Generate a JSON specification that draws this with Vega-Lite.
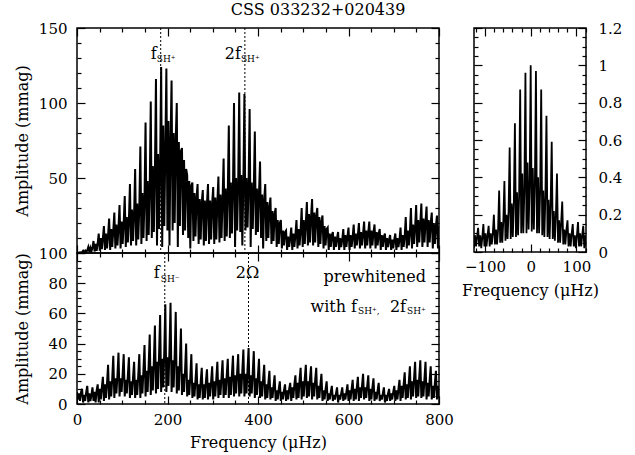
{
"$schema": "https://vega.github.io/schema/vega-lite/v6.json",
"padding": {"left": 13, "top": 2, "right": 5, "bottom": 5},
"title": {"text": "CSS 033232+020439", "anchor": "middle", "offset": 2, "font": "DejaVu Serif", "fontSize": 16, "fontWeight": "normal", "color": "black"},
"config": {
  "view": {"stroke": "black", "strokeWidth": 1.5},
  "axis": {"domain": false, "grid": false, "tickColor": "black", "tickWidth": 1.2, "labelColor": "black", "titleColor": "black", "labelFont": "DejaVu Serif", "titleFont": "DejaVu Serif", "labelFontSize": 15, "titleFontSize": 16, "titleFontWeight": "normal", "labelFlush": false, "labelOverlap": false, "titlePadding": 8}
},
"datasets": {
"p": [
{"f":0,"a":0,"b":8},
{"f":2,"a":0.3,"b":3},{"f":4.3,"a":0.1,"b":7},{"f":6.6,"a":0.5,"b":2},{"f":8.9,"a":0.2,"b":8},{"f":11.2,"a":0.6,"b":10},
{"f":13.5,"a":1.5,"b":1},{"f":15.8,"a":0.4,"b":6},{"f":18.1,"a":1.6,"b":2},{"f":20.4,"a":0.5,"b":8},{"f":22.7,"a":1.8,"b":12},
{"f":25,"a":4,"b":1},{"f":27.3,"a":0.8,"b":7},{"f":29.6,"a":3.5,"b":2},{"f":31.9,"a":1,"b":6},{"f":34.2,"a":3.8,"b":11},
{"f":36.5,"a":8,"b":2},{"f":38.8,"a":1,"b":8},{"f":41.1,"a":6,"b":1},{"f":43.4,"a":1.5,"b":9},{"f":45.7,"a":6.5,"b":13},
{"f":48,"a":13,"b":1},{"f":50.3,"a":1.5,"b":10},{"f":52.6,"a":10,"b":3},{"f":54.9,"a":2.5,"b":11},{"f":57.2,"a":10,"b":18},
{"f":59.5,"a":18,"b":2},{"f":61.8,"a":2,"b":13},{"f":64.1,"a":13,"b":4},{"f":66.4,"a":3,"b":14},{"f":68.7,"a":12,"b":26},
{"f":71,"a":23,"b":3},{"f":73.3,"a":2,"b":15},{"f":75.6,"a":16,"b":5},{"f":77.9,"a":4,"b":17},{"f":80.2,"a":15,"b":32},
{"f":82.5,"a":27,"b":4},{"f":84.8,"a":3,"b":17},{"f":87.1,"a":19,"b":7},{"f":89.4,"a":5,"b":19},{"f":91.7,"a":17,"b":34},
{"f":94,"a":32,"b":5},{"f":96.3,"a":3,"b":17},{"f":98.6,"a":21,"b":8},{"f":100.9,"a":6,"b":20},{"f":103.2,"a":20,"b":33},
{"f":105.5,"a":38,"b":5},{"f":107.8,"a":4,"b":16},{"f":110.1,"a":24,"b":7},{"f":112.4,"a":7,"b":19},{"f":114.7,"a":22,"b":31},
{"f":117,"a":46,"b":4},{"f":119.3,"a":5,"b":15},{"f":121.6,"a":29,"b":6},{"f":123.9,"a":8,"b":18},{"f":126.2,"a":26,"b":28},
{"f":128.5,"a":56,"b":4},{"f":130.8,"a":5,"b":16},{"f":133.1,"a":33,"b":6},{"f":135.4,"a":9,"b":19},{"f":137.7,"a":30,"b":33},
{"f":140,"a":71,"b":4},{"f":142.3,"a":6,"b":19},{"f":144.6,"a":40,"b":7},{"f":146.9,"a":10,"b":23},{"f":149.2,"a":36,"b":39},
{"f":151.5,"a":87,"b":5},{"f":153.8,"a":8,"b":22},{"f":156.1,"a":48,"b":8},{"f":158.4,"a":12,"b":26},{"f":160.7,"a":44,"b":46},
{"f":163,"a":101,"b":6},{"f":165.3,"a":10,"b":25},{"f":167.6,"a":58,"b":9},{"f":169.9,"a":14,"b":29},{"f":172.2,"a":55,"b":52},
{"f":174.5,"a":116,"b":7},{"f":176.8,"a":5,"b":28},{"f":179.1,"a":66,"b":10},{"f":181.4,"a":16,"b":33},{"f":183.7,"a":60,"b":59},
{"f":186,"a":124,"b":8},{"f":188.3,"a":4,"b":30},{"f":190.6,"a":85,"b":11},{"f":192.9,"a":18,"b":35},{"f":195.2,"a":68,"b":66},
{"f":197.5,"a":123,"b":8},{"f":199.8,"a":15,"b":31},{"f":202.1,"a":88,"b":12},{"f":204.4,"a":5,"b":36},{"f":206.7,"a":74,"b":67},
{"f":209,"a":115,"b":8},{"f":211.3,"a":15,"b":29},{"f":213.6,"a":80,"b":11},{"f":215.9,"a":20,"b":33},{"f":218.2,"a":76,"b":61},
{"f":220.5,"a":100,"b":7},{"f":222.8,"a":4,"b":25},{"f":225.1,"a":74,"b":9},{"f":227.4,"a":18,"b":28},{"f":229.7,"a":68,"b":50},
{"f":232,"a":70,"b":6},{"f":234.3,"a":12,"b":20},{"f":236.6,"a":62,"b":8},{"f":238.9,"a":15,"b":23},{"f":241.2,"a":56,"b":40},
{"f":243.5,"a":52,"b":5},{"f":245.8,"a":10,"b":16},{"f":248.1,"a":48,"b":6},{"f":250.4,"a":3,"b":18},{"f":252.7,"a":45,"b":33},
{"f":255,"a":47,"b":4},{"f":257.3,"a":8,"b":14},{"f":259.6,"a":40,"b":5},{"f":261.9,"a":11,"b":16},{"f":264.2,"a":37,"b":27},
{"f":266.5,"a":46,"b":3},{"f":268.8,"a":6,"b":13},{"f":271.1,"a":36,"b":4},{"f":273.4,"a":9,"b":15},{"f":275.7,"a":34,"b":24},
{"f":278,"a":42,"b":3},{"f":280.3,"a":5,"b":13},{"f":282.6,"a":35,"b":4},{"f":284.9,"a":8,"b":15},{"f":287.2,"a":33,"b":23},
{"f":289.5,"a":46,"b":3},{"f":291.8,"a":6,"b":14},{"f":294.1,"a":35,"b":5},{"f":296.4,"a":9,"b":15},{"f":298.7,"a":33,"b":25},
{"f":301,"a":44,"b":3},{"f":303.3,"a":6,"b":15},{"f":305.6,"a":37,"b":5},{"f":307.9,"a":9,"b":17},{"f":310.2,"a":34,"b":28},
{"f":312.5,"a":51,"b":4},{"f":314.8,"a":7,"b":16},{"f":317.1,"a":39,"b":6},{"f":319.4,"a":10,"b":18},{"f":321.7,"a":36,"b":29},
{"f":324,"a":63,"b":4},{"f":326.3,"a":8,"b":17},{"f":328.6,"a":43,"b":6},{"f":330.9,"a":11,"b":19},{"f":333.2,"a":40,"b":30},
{"f":335.5,"a":85,"b":4},{"f":337.8,"a":10,"b":18},{"f":340.1,"a":47,"b":6},{"f":342.4,"a":13,"b":20},{"f":344.7,"a":44,"b":32},
{"f":347,"a":100,"b":5},{"f":349.3,"a":4,"b":19},{"f":351.6,"a":50,"b":7},{"f":353.9,"a":15,"b":21},{"f":356.2,"a":46,"b":33},
{"f":358.5,"a":107,"b":5},{"f":360.8,"a":14,"b":20},{"f":363.1,"a":52,"b":7},{"f":365.4,"a":5,"b":22},{"f":367.7,"a":48,"b":36},
{"f":370,"a":106,"b":5},{"f":372.3,"a":15,"b":20},{"f":374.6,"a":50,"b":7},{"f":376.9,"a":17,"b":23},{"f":379.2,"a":46,"b":37},
{"f":381.5,"a":96,"b":5},{"f":383.8,"a":4,"b":19},{"f":386.1,"a":47,"b":7},{"f":388.4,"a":16,"b":21},{"f":390.7,"a":43,"b":35},
{"f":393,"a":81,"b":4},{"f":395.3,"a":12,"b":17},{"f":397.6,"a":43,"b":6},{"f":399.9,"a":14,"b":19},{"f":402.2,"a":40,"b":30},
{"f":404.5,"a":61,"b":4},{"f":406.8,"a":10,"b":15},{"f":409.1,"a":39,"b":5},{"f":411.4,"a":3,"b":17},{"f":413.7,"a":36,"b":26},
{"f":416,"a":46,"b":3},{"f":418.3,"a":8,"b":13},{"f":420.6,"a":34,"b":4},{"f":422.9,"a":10,"b":14},{"f":425.2,"a":31,"b":22},
{"f":427.5,"a":37,"b":3},{"f":429.8,"a":6,"b":11},{"f":432.1,"a":28,"b":4},{"f":434.4,"a":8,"b":12},{"f":436.7,"a":26,"b":19},
{"f":439,"a":30,"b":2},{"f":441.3,"a":4,"b":9},{"f":443.6,"a":22,"b":3},{"f":445.9,"a":6,"b":10},{"f":448.2,"a":20,"b":15},
{"f":450.5,"a":22,"b":2},{"f":452.8,"a":3,"b":8},{"f":455.1,"a":15,"b":3},{"f":457.4,"a":5,"b":9},{"f":459.7,"a":14,"b":13},
{"f":462,"a":15,"b":2},{"f":464.3,"a":2,"b":9},{"f":466.6,"a":11,"b":3},{"f":468.9,"a":4,"b":10},{"f":471.2,"a":10,"b":14},
{"f":473.5,"a":17,"b":2},{"f":475.8,"a":2,"b":11},{"f":478.1,"a":13,"b":4},{"f":480.4,"a":4,"b":13},{"f":482.7,"a":12,"b":19},
{"f":485,"a":22,"b":3},{"f":487.3,"a":3,"b":14},{"f":489.6,"a":16,"b":4},{"f":491.9,"a":5,"b":16},{"f":494.2,"a":15,"b":24},
{"f":496.5,"a":30,"b":3},{"f":498.8,"a":4,"b":15},{"f":501.1,"a":22,"b":5},{"f":503.4,"a":6,"b":17},{"f":505.7,"a":20,"b":26},
{"f":508,"a":34,"b":4},{"f":510.3,"a":5,"b":15},{"f":512.6,"a":26,"b":5},{"f":514.9,"a":7,"b":17},{"f":517.2,"a":24,"b":25},
{"f":519.5,"a":36,"b":3},{"f":521.8,"a":5,"b":14},{"f":524.1,"a":27,"b":5},{"f":526.4,"a":7,"b":16},{"f":528.7,"a":25,"b":24},
{"f":531,"a":30,"b":3},{"f":533.3,"a":4,"b":12},{"f":535.6,"a":24,"b":4},{"f":537.9,"a":6,"b":13},{"f":540.2,"a":21,"b":20},
{"f":542.5,"a":25,"b":2},{"f":544.8,"a":3,"b":9},{"f":547.1,"a":18,"b":3},{"f":549.4,"a":5,"b":10},{"f":551.7,"a":16,"b":15},
{"f":554,"a":17,"b":2},{"f":556.3,"a":2,"b":7},{"f":558.6,"a":13,"b":3},{"f":560.9,"a":4,"b":8},{"f":563.2,"a":12,"b":12},
{"f":565.5,"a":14,"b":2},{"f":567.8,"a":2,"b":6},{"f":570.1,"a":11,"b":3},{"f":572.4,"a":4,"b":7},{"f":574.7,"a":10,"b":11},
{"f":577,"a":14,"b":1},{"f":579.3,"a":2,"b":6},{"f":581.6,"a":10,"b":3},{"f":583.9,"a":4,"b":7},{"f":586.2,"a":9,"b":11},
{"f":588.5,"a":16,"b":2},{"f":590.8,"a":2,"b":7},{"f":593.1,"a":12,"b":3},{"f":595.4,"a":4,"b":8},{"f":597.7,"a":11,"b":13},
{"f":600,"a":17,"b":2},{"f":602.3,"a":2,"b":9},{"f":604.6,"a":12,"b":3},{"f":606.9,"a":4,"b":10},{"f":609.2,"a":11,"b":16},
{"f":611.5,"a":19,"b":2},{"f":613.8,"a":3,"b":10},{"f":616.1,"a":13,"b":3},{"f":618.4,"a":5,"b":11},{"f":620.7,"a":12,"b":18},
{"f":623,"a":20,"b":2},{"f":625.3,"a":3,"b":11},{"f":627.6,"a":14,"b":4},{"f":629.9,"a":5,"b":12},{"f":632.2,"a":13,"b":20},
{"f":634.5,"a":21,"b":3},{"f":636.8,"a":3,"b":11},{"f":639.1,"a":15,"b":4},{"f":641.4,"a":5,"b":12},{"f":643.7,"a":14,"b":19},
{"f":646,"a":21,"b":2},{"f":648.3,"a":3,"b":10},{"f":650.6,"a":15,"b":3},{"f":652.9,"a":5,"b":11},{"f":655.2,"a":14,"b":17},
{"f":657.5,"a":19,"b":2},{"f":659.8,"a":3,"b":8},{"f":662.1,"a":14,"b":3},{"f":664.4,"a":5,"b":9},{"f":666.7,"a":13,"b":14},
{"f":669,"a":16,"b":2},{"f":671.3,"a":2,"b":6},{"f":673.6,"a":12,"b":3},{"f":675.9,"a":4,"b":7},{"f":678.2,"a":11,"b":11},
{"f":680.5,"a":13,"b":1},{"f":682.8,"a":2,"b":6},{"f":685.1,"a":10,"b":2},{"f":687.4,"a":4,"b":7},{"f":689.7,"a":9,"b":10},
{"f":692,"a":12,"b":2},{"f":694.3,"a":2,"b":7},{"f":696.6,"a":9,"b":3},{"f":698.9,"a":3,"b":8},{"f":701.2,"a":9,"b":12},
{"f":703.5,"a":13,"b":2},{"f":705.8,"a":2,"b":9},{"f":708.1,"a":10,"b":3},{"f":710.4,"a":4,"b":10},{"f":712.7,"a":9,"b":16},
{"f":715,"a":17,"b":2},{"f":717.3,"a":2,"b":12},{"f":719.6,"a":12,"b":4},{"f":721.9,"a":4,"b":13},{"f":724.2,"a":11,"b":21},
{"f":726.5,"a":24,"b":3},{"f":728.8,"a":3,"b":13},{"f":731.1,"a":15,"b":4},{"f":733.4,"a":5,"b":15},{"f":735.7,"a":14,"b":25},
{"f":738,"a":30,"b":3},{"f":740.3,"a":3,"b":15},{"f":742.6,"a":19,"b":5},{"f":744.9,"a":6,"b":17},{"f":747.2,"a":17,"b":28},
{"f":749.5,"a":32,"b":4},{"f":751.8,"a":4,"b":16},{"f":754.1,"a":22,"b":5},{"f":756.4,"a":7,"b":18},{"f":758.7,"a":20,"b":29},
{"f":761,"a":33,"b":4},{"f":763.3,"a":4,"b":15},{"f":765.6,"a":23,"b":5},{"f":767.9,"a":7,"b":17},{"f":770.2,"a":21,"b":28},
{"f":772.5,"a":31,"b":3},{"f":774.8,"a":4,"b":14},{"f":777.1,"a":22,"b":5},{"f":779.4,"a":7,"b":16},{"f":781.7,"a":20,"b":25},
{"f":784,"a":27,"b":3},{"f":786.3,"a":3,"b":12},{"f":788.6,"a":20,"b":4},{"f":790.9,"a":6,"b":14},{"f":793.2,"a":18,"b":22},
{"f":795.5,"a":25,"b":3},{"f":797.8,"a":3,"b":12},{"f":800,"a":18,"b":4}
],
"w": [
{"f":-126.5,"p":0.12},{"f":-124.2,"p":0.02},{"f":-121.9,"p":0.09},{"f":-119.6,"p":0.03},{"f":-117.3,"p":0.08},
{"f":-115,"p":0.13},{"f":-112.7,"p":0.03},{"f":-110.4,"p":0.09},{"f":-108.1,"p":0.02},{"f":-105.8,"p":0.08},
{"f":-103.5,"p":0.15},{"f":-101.2,"p":0.03},{"f":-98.9,"p":0.1},{"f":-96.6,"p":0.03},{"f":-94.3,"p":0.09},
{"f":-92,"p":0.14},{"f":-89.7,"p":0.03},{"f":-87.4,"p":0.1},{"f":-85.1,"p":0.04},{"f":-82.8,"p":0.1},
{"f":-80.5,"p":0.2},{"f":-78.2,"p":0.04},{"f":-75.9,"p":0.12},{"f":-73.6,"p":0.04},{"f":-71.3,"p":0.12},
{"f":-69,"p":0.33},{"f":-66.7,"p":0.05},{"f":-64.4,"p":0.16},{"f":-62.1,"p":0.05},{"f":-59.8,"p":0.17},
{"f":-57.5,"p":0.38},{"f":-55.2,"p":0.06},{"f":-52.9,"p":0.2},{"f":-50.6,"p":0.07},{"f":-48.3,"p":0.22},
{"f":-46,"p":0.56},{"f":-43.7,"p":0.07},{"f":-41.4,"p":0.26},{"f":-39.1,"p":0.08},{"f":-36.8,"p":0.27},
{"f":-34.5,"p":0.69},{"f":-32.2,"p":0.08},{"f":-29.9,"p":0.32},{"f":-27.6,"p":0.09},{"f":-25.3,"p":0.3},
{"f":-23,"p":0.87},{"f":-20.7,"p":0.1},{"f":-18.4,"p":0.42},{"f":-16.1,"p":0.1},{"f":-13.8,"p":0.33},
{"f":-11.5,"p":0.96},{"f":-9.2,"p":0.1},{"f":-6.9,"p":0.48},{"f":-4.6,"p":0.12},{"f":-2.3,"p":0.35},
{"f":0,"p":1},{"f":2.3,"p":0.11},{"f":4.6,"p":0.45},{"f":6.9,"p":0.12},{"f":9.2,"p":0.36},
{"f":11.5,"p":0.97},{"f":13.8,"p":0.1},{"f":16.1,"p":0.4},{"f":18.4,"p":0.1},{"f":20.7,"p":0.33},
{"f":23,"p":0.87},{"f":25.3,"p":0.09},{"f":27.6,"p":0.33},{"f":29.9,"p":0.08},{"f":32.2,"p":0.3},
{"f":34.5,"p":0.73},{"f":36.8,"p":0.08},{"f":39.1,"p":0.28},{"f":41.4,"p":0.07},{"f":43.7,"p":0.26},
{"f":46,"p":0.59},{"f":48.3,"p":0.07},{"f":50.6,"p":0.22},{"f":52.9,"p":0.06},{"f":55.2,"p":0.2},
{"f":57.5,"p":0.42},{"f":59.8,"p":0.05},{"f":62.1,"p":0.17},{"f":64.4,"p":0.05},{"f":66.7,"p":0.16},
{"f":69,"p":0.27},{"f":71.3,"p":0.04},{"f":73.6,"p":0.12},{"f":75.9,"p":0.04},{"f":78.2,"p":0.12},
{"f":80.5,"p":0.17},{"f":82.8,"p":0.03},{"f":85.1,"p":0.1},{"f":87.4,"p":0.03},{"f":89.7,"p":0.1},
{"f":92,"p":0.15},{"f":94.3,"p":0.03},{"f":96.6,"p":0.09},{"f":98.9,"p":0.02},{"f":101.2,"p":0.09},
{"f":103.5,"p":0.16},{"f":105.8,"p":0.03},{"f":108.1,"p":0.1},{"f":110.4,"p":0.03},{"f":112.7,"p":0.09},
{"f":115,"p":0.14},{"f":117.3,"p":0.02},{"f":119.6,"p":0.09},{"f":121.9,"p":0.03},{"f":124.2,"p":0.08},{"f":126.5,"p":0.12}
]
},
"spacing": 5,
"hconcat": [
{
 "vconcat": [
  {
   "width": 362, "height": 225,
   "layer": [
    {
     "data": {"name": "p"},
     "mark": {"type": "line", "color": "black", "strokeWidth": 2, "clip": true},
     "encoding": {
      "x": {"field": "f", "type": "quantitative", "scale": {"domain": [0, 800], "nice": false, "zero": false},
            "axis": {"orient": "bottom", "values": [0,50,100,150,200,250,300,350,400,450,500,550,600,650,700,750,800], "labels": false, "title": null,
                     "tickSize": {"condition": {"test": "datum.value % 200 === 0", "value": -8}, "value": -4}}},
      "y": {"field": "a", "type": "quantitative", "scale": {"domain": [0, 150], "nice": false, "zero": false},
            "axis": {"orient": "left", "values": [0,10,20,30,40,50,60,70,80,90,100,110,120,130,140,150], "title": "Amplitude (mmag)", "labelPadding": 18,
                     "labelExpr": "datum.value % 50 === 0 && datum.value > 0 ? format(datum.value, 'd') : ''",
                     "tickSize": {"condition": {"test": "datum.value % 50 === 0", "value": -8}, "value": -4}}}
     }
    },
    {
     "data": {"values": [{"f": 185}, {"f": 371}]},
     "mark": {"type": "rule", "color": "black", "strokeWidth": 1, "strokeDash": [2, 2]},
     "encoding": {"x": {"field": "f", "type": "quantitative", "axis": null}}
    },
    {
     "data": {"values": [{"f": 185, "a": 133, "t": "f"}, {"f": 371, "a": 133, "t": "2f"}]},
     "mark": {"type": "text", "align": "right", "dx": -4, "fontSize": 16, "font": "DejaVu Serif", "color": "black"},
     "encoding": {
      "x": {"field": "f", "type": "quantitative",
            "axis": {"orient": "top", "values": [0,50,100,150,200,250,300,350,400,450,500,550,600,650,700,750,800], "labels": false, "title": null,
                     "tickSize": {"condition": {"test": "datum.value % 200 === 0", "value": -8}, "value": -4}}},
      "y": {"field": "a", "type": "quantitative",
            "axis": {"orient": "right", "values": [0,10,20,30,40,50,60,70,80,90,100,110,120,130,140,150], "labels": false, "title": null,
                     "tickSize": {"condition": {"test": "datum.value % 50 === 0", "value": -8}, "value": -4}}},
      "text": {"field": "t"}
     }
    },
    {
     "data": {"values": [{"f": 185, "a": 133, "t": "SH⁺"}, {"f": 371, "a": 133, "t": "SH⁺"}]},
     "mark": {"type": "text", "align": "left", "dx": -4, "dy": 5, "fontSize": 9, "font": "DejaVu Serif", "color": "black"},
     "encoding": {
      "x": {"field": "f", "type": "quantitative", "axis": null},
      "y": {"field": "a", "type": "quantitative", "axis": null},
      "text": {"field": "t"}
     }
    }
   ],
   "resolve": {"axis": {"x": "independent", "y": "independent"}}
  },
  {
   "width": 362, "height": 151,
   "layer": [
    {
     "data": {"name": "p"},
     "mark": {"type": "line", "color": "black", "strokeWidth": 2, "clip": true},
     "encoding": {
      "x": {"field": "f", "type": "quantitative", "scale": {"domain": [0, 800], "nice": false, "zero": false},
            "axis": {"orient": "bottom", "values": [0,50,100,150,200,250,300,350,400,450,500,550,600,650,700,750,800], "title": "Frequency (μHz)", "labelPadding": 16, "titlePadding": 3,
                     "labelExpr": "datum.value % 200 === 0 ? format(datum.value, 'd') : ''",
                     "tickSize": {"condition": {"test": "datum.value % 200 === 0", "value": -8}, "value": -4}}},
      "y": {"field": "b", "type": "quantitative", "scale": {"domain": [0, 100], "nice": false, "zero": false},
            "axis": {"orient": "left", "values": [0,5,10,15,20,25,30,35,40,45,50,55,60,65,70,75,80,85,90,95,100], "title": "Amplitude (mmag)", "labelPadding": 18,
                     "labelExpr": "datum.value % 20 === 0 ? format(datum.value, 'd') : ''",
                     "tickSize": {"condition": {"test": "datum.value % 20 === 0", "value": -8}, "value": -4}}}
     }
    },
    {
     "data": {"values": [{"f": 194}, {"f": 379}]},
     "mark": {"type": "rule", "color": "black", "strokeWidth": 1, "strokeDash": [2, 2]},
     "encoding": {"x": {"field": "f", "type": "quantitative", "axis": null}}
    },
    {
     "data": {"values": [{"f": 194, "b": 86.5, "t": "f"}]},
     "mark": {"type": "text", "align": "right", "dx": -5, "fontSize": 16, "font": "DejaVu Serif", "color": "black"},
     "encoding": {
      "x": {"field": "f", "type": "quantitative",
            "axis": {"orient": "top", "values": [0,50,100,150,200,250,300,350,400,450,500,550,600,650,700,750,800], "labels": false, "title": null,
                     "tickSize": {"condition": {"test": "datum.value % 200 === 0", "value": -8}, "value": -4}}},
      "y": {"field": "b", "type": "quantitative",
            "axis": {"orient": "right", "values": [0,5,10,15,20,25,30,35,40,45,50,55,60,65,70,75,80,85,90,95,100], "labels": false, "title": null,
                     "tickSize": {"condition": {"test": "datum.value % 20 === 0", "value": -8}, "value": -4}}},
      "text": {"field": "t"}
     }
    },
    {
     "data": {"values": [{"f": 194, "b": 86.5, "t": "SH⁻"}]},
     "mark": {"type": "text", "align": "left", "dx": -4, "dy": 6, "fontSize": 9, "font": "DejaVu Serif", "color": "black"},
     "encoding": {"x": {"field": "f", "type": "quantitative", "axis": null}, "y": {"field": "b", "type": "quantitative", "axis": null}, "text": {"field": "t"}}
    },
    {
     "data": {"values": [{"f": 379, "b": 86.5, "t": "2Ω"}]},
     "mark": {"type": "text", "align": "center", "dx": -1, "fontSize": 16, "font": "DejaVu Serif", "color": "black"},
     "encoding": {"x": {"field": "f", "type": "quantitative", "axis": null}, "y": {"field": "b", "type": "quantitative", "axis": null}, "text": {"field": "t"}}
    },
    {
     "data": {"values": [{"f": 800, "b": 84, "t": "prewhitened"}]},
     "mark": {"type": "text", "align": "right", "dx": -13, "fontSize": 16, "font": "DejaVu Serif", "color": "black"},
     "encoding": {"x": {"field": "f", "type": "quantitative", "axis": null}, "y": {"field": "b", "type": "quantitative", "axis": null}, "text": {"field": "t"}}
    },
    {
     "data": {"values": [{"f": 800, "b": 64.4, "t": "with f"}]},
     "mark": {"type": "text", "align": "right", "dx": -82, "fontSize": 16, "font": "DejaVu Serif", "color": "black"},
     "encoding": {"x": {"field": "f", "type": "quantitative", "axis": null}, "y": {"field": "b", "type": "quantitative", "axis": null}, "text": {"field": "t"}}
    },
    {
     "data": {"values": [{"f": 800, "b": 64.4, "t": "SH⁺,"}]},
     "mark": {"type": "text", "align": "left", "dx": -81, "dy": 4, "fontSize": 9, "font": "DejaVu Serif", "color": "black"},
     "encoding": {"x": {"field": "f", "type": "quantitative", "axis": null}, "y": {"field": "b", "type": "quantitative", "axis": null}, "text": {"field": "t"}}
    },
    {
     "data": {"values": [{"f": 800, "b": 64.4, "t": "2f"}]},
     "mark": {"type": "text", "align": "right", "dx": -33, "fontSize": 16, "font": "DejaVu Serif", "color": "black"},
     "encoding": {"x": {"field": "f", "type": "quantitative", "axis": null}, "y": {"field": "b", "type": "quantitative", "axis": null}, "text": {"field": "t"}}
    },
    {
     "data": {"values": [{"f": 800, "b": 64.4, "t": "SH⁺"}]},
     "mark": {"type": "text", "align": "left", "dx": -32, "dy": 4, "fontSize": 9, "font": "DejaVu Serif", "color": "black"},
     "encoding": {"x": {"field": "f", "type": "quantitative", "axis": null}, "y": {"field": "b", "type": "quantitative", "axis": null}, "text": {"field": "t"}}
    }
   ],
   "resolve": {"axis": {"x": "independent", "y": "independent"}}
  }
 ],
 "spacing": 0,
 "bounds": "flush"
},
{
 "width": 112, "height": 224,
 "data": {"name": "w"},
 "layer": [
  {
   "mark": {"type": "line", "color": "black", "strokeWidth": 1.8, "clip": true},
   "encoding": {
    "x": {"field": "f", "type": "quantitative", "scale": {"domain": [-124, 121], "nice": false, "zero": false},
          "axis": {"orient": "bottom", "values": [-120,-100,-80,-60,-40,-20,0,20,40,60,80,100,120], "title": "Frequency (μHz)", "labelPadding": 15, "titlePadding": 4,
                   "labelExpr": "datum.value % 100 === 0 ? format(datum.value, 'd') : ''",
                   "tickSize": {"condition": {"test": "datum.value % 100 === 0", "value": -8}, "value": -4}}},
    "y": {"field": "p", "type": "quantitative", "scale": {"domain": [0, 1.2], "nice": false, "zero": false},
          "axis": {"orient": "right", "values": [0,0.05,0.1,0.15,0.2,0.25,0.3,0.35,0.4,0.45,0.5,0.55,0.6,0.65,0.7,0.75,0.8,0.85,0.9,0.95,1,1.05,1.1,1.15,1.2], "title": null, "labelPadding": 20,
                   "labelExpr": "abs(datum.value*5 - round(datum.value*5)) < 0.001 ? format(datum.value, '~g') : ''",
                   "tickSize": {"condition": {"test": "abs(datum.value*5 - round(datum.value*5)) < 0.001", "value": -8}, "value": -4}}}
   }
  },
  {
   "mark": {"type": "line", "strokeOpacity": 0},
   "encoding": {
    "x": {"field": "f", "type": "quantitative",
          "axis": {"orient": "top", "values": [-120,-100,-80,-60,-40,-20,0,20,40,60,80,100,120], "labels": false, "title": null,
                   "tickSize": {"condition": {"test": "datum.value % 100 === 0", "value": -8}, "value": -4}}},
    "y": {"field": "p", "type": "quantitative",
          "axis": {"orient": "left", "values": [0,0.05,0.1,0.15,0.2,0.25,0.3,0.35,0.4,0.45,0.5,0.55,0.6,0.65,0.7,0.75,0.8,0.85,0.9,0.95,1,1.05,1.1,1.15,1.2], "labels": false, "title": null,
                   "tickSize": {"condition": {"test": "abs(datum.value*5 - round(datum.value*5)) < 0.001", "value": -8}, "value": -4}}}
   }
  }
 ],
 "resolve": {"axis": {"x": "independent", "y": "independent"}}
}
]
}
